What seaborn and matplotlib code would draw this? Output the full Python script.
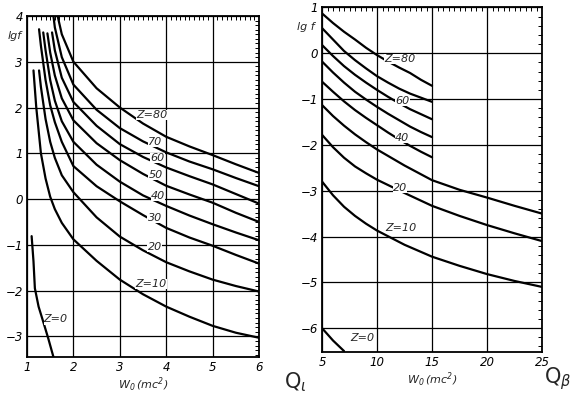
import numpy as np
import pandas as pd
import matplotlib
matplotlib.use('Agg')
import matplotlib.pyplot as plt
from matplotlib.ticker import MultipleLocator
import seaborn as sns

# ===================== DATEN =====================
# linkes Feld: Q_i, W0 in mc^2, lg f
qi_x80 = [1.66, 1.75, 2.0, 2.5, 3.0, 3.5, 4.0, 4.5, 5.0, 5.5, 6.0]
qi_y80 = [4.0, 3.6, 3.0, 2.42, 2.0, 1.65, 1.36, 1.15, 0.96, 0.76, 0.57]
qi_x70 = [1.57, 1.6, 1.75, 2.0, 2.5, 3.0, 3.5, 4.0, 4.5, 5.0, 5.5, 6.0]
qi_y70 = [4.0, 3.75, 3.1, 2.5, 1.95, 1.55, 1.26, 1.02, 0.82, 0.65, 0.46, 0.28]
qi_x60 = [1.54, 1.6, 1.75, 2.0, 2.5, 3.0, 3.5, 4.0, 4.5, 5.0, 5.5, 6.0]
qi_y60 = [3.64, 3.25, 2.65, 2.12, 1.6, 1.2, 0.92, 0.69, 0.5, 0.32, 0.11, -0.1]
qi_x50 = [1.44, 1.5, 1.6, 1.75, 2.0, 2.5, 3.0, 3.5, 4.0, 4.5, 5.0, 5.5, 6.0]
qi_y50 = [3.62, 3.2, 2.7, 2.2, 1.72, 1.22, 0.85, 0.55, 0.29, 0.1, -0.08, -0.3, -0.5]
qi_x40 = [1.35, 1.4, 1.5, 1.6, 1.75, 2.0, 2.5, 3.0, 3.5, 4.0, 4.5, 5.0, 5.5, 6.0]
qi_y40 = [3.64, 3.25, 2.6, 2.15, 1.7, 1.25, 0.75, 0.38, 0.08, -0.15, -0.36, -0.55, -0.73, -0.9]
qi_x30 = [1.26, 1.3, 1.4, 1.5, 1.6, 1.75, 2.0, 2.5, 3.0, 3.5, 4.0, 4.5, 5.0, 5.5, 6.0]
qi_y30 = [3.71, 3.35, 2.6, 2.05, 1.68, 1.25, 0.72, 0.28, -0.05, -0.35, -0.63, -0.84, -1.02, -1.22, -1.41]
qi_x20 = [1.26, 1.3, 1.4, 1.5, 1.6, 1.75, 2.0, 2.5, 3.0, 3.5, 4.0, 4.5, 5.0, 5.5, 6.0]
qi_y20 = [2.81, 2.45, 1.75, 1.25, 0.9, 0.52, 0.15, -0.4, -0.82, -1.12, -1.38, -1.58, -1.76, -1.9, -2.02]
qi_x10 = [1.14, 1.2, 1.3, 1.4, 1.5, 1.6, 1.75, 2.0, 2.5, 3.0, 3.5, 4.0, 4.5, 5.0, 5.5, 6.0]
qi_y10 = [2.81, 2.0, 1.0, 0.45, 0.05, -0.22, -0.52, -0.88, -1.35, -1.76, -2.08, -2.35, -2.57, -2.77, -2.92, -3.03]
qi_x0 = [1.10, 1.14, 1.17, 1.25, 1.35, 1.46, 1.57]
qi_y0 = [-0.81, -1.36, -1.95, -2.35, -2.68, -3.05, -3.45]

# rechtes Feld: Q_beta
qb_x_kurz = [5, 6, 7, 8, 9, 10, 11, 12, 13, 14, 15]
qb_y80 = [0.87, 0.66, 0.47, 0.30, 0.12, -0.04, -0.18, -0.31, -0.43, -0.58, -0.71]
qb_y70 = [0.55, 0.30, 0.05, -0.15, -0.33, -0.50, -0.64, -0.77, -0.88, -0.97, -1.06]
qb_y60 = [0.18, -0.06, -0.28, -0.47, -0.64, -0.80, -0.95, -1.09, -1.22, -1.33, -1.44]
qb_y50 = [-0.18, -0.42, -0.64, -0.84, -1.01, -1.17, -1.32, -1.46, -1.60, -1.72, -1.83]
qb_y40 = [-0.62, -0.84, -1.05, -1.24, -1.41, -1.57, -1.73, -1.88, -2.02, -2.15, -2.27]
qb_x_lang = [5, 6, 7, 8, 9, 10, 12.5, 15, 17.5, 20, 22.5, 25]
qb_y30 = [-1.13, -1.37, -1.58, -1.77, -1.94, -2.10, -2.45, -2.77, -2.98, -3.15, -3.33, -3.5]
qb_y20 = [-1.78, -2.05, -2.28, -2.47, -2.62, -2.76, -3.05, -3.33, -3.55, -3.75, -3.93, -4.1]
qb_y10 = [-2.8, -3.1, -3.35, -3.55, -3.72, -3.87, -4.18, -4.44, -4.64, -4.82, -4.97, -5.1]
qb_x0 = [5, 6, 7]
qb_y0 = [-6.0, -6.27, -6.5]

# Beschriftungen der Kurven (Text, x, y)
qi_labels = [('Z=80', 3.69, 1.84), ('70', 3.77, 1.25), ('60', 3.81, 0.89),
             ('50', 3.77, 0.53), ('40', 3.82, 0.07), ('30', 3.75, -0.42),
             ('20', 3.75, -1.05), ('Z=10', 3.67, -1.85), ('Z=0', 1.62, -2.63)]
qb_labels = [('Z=80', 12.1, -0.12), ('60', 12.3, -1.04), ('40', 12.3, -1.84),
             ('20', 12.1, -2.94), ('Z=10', 12.2, -3.81), ('Z=0', 8.7, -6.22)]


def to_long(curves):
    rows = []
    for z, xs, ys in curves:
        for x, y in zip(xs, ys):
            rows.append({'Z': z, 'W0': x, 'lgf': y})
    return pd.DataFrame(rows)


df_qi = to_long([(80, qi_x80, qi_y80), (70, qi_x70, qi_y70), (60, qi_x60, qi_y60),
                 (50, qi_x50, qi_y50), (40, qi_x40, qi_y40), (30, qi_x30, qi_y30),
                 (20, qi_x20, qi_y20), (10, qi_x10, qi_y10), (0, qi_x0, qi_y0)])
df_qb = to_long([(80, qb_x_kurz, qb_y80), (70, qb_x_kurz, qb_y70), (60, qb_x_kurz, qb_y60),
                 (50, qb_x_kurz, qb_y50), (40, qb_x_kurz, qb_y40), (30, qb_x_lang, qb_y30),
                 (20, qb_x_lang, qb_y20), (10, qb_x_lang, qb_y10), (0, qb_x0, qb_y0)])

sns.set_style('white')
plt.rcParams['font.family'] = ['DejaVu Sans']
plt.rcParams['font.style'] = 'italic'

fig = plt.figure(figsize=(5.73, 3.97), dpi=100)
ax1 = fig.add_axes([0.0471, 0.1008, 0.405, 0.859])
ax2 = fig.add_axes([0.562, 0.1134, 0.384, 0.8678])


def style_axes(ax, xlim, ylim, xmaj, xmin, ymin):
    ax.set_xlim(*xlim)
    ax.set_ylim(*ylim)
    ax.xaxis.set_major_locator(MultipleLocator(xmaj))
    ax.xaxis.set_minor_locator(MultipleLocator(xmin))
    ax.yaxis.set_major_locator(MultipleLocator(1))
    ax.yaxis.set_minor_locator(MultipleLocator(ymin))
    ax.grid(True, which='major', color='black', lw=0.9)
    ax.tick_params(which='both', direction='in', top=True, right=True, colors='black',
                   labelsize=8.5, pad=3)
    ax.tick_params(which='major', length=0)
    ax.tick_params(which='minor', length=3, width=0.7)
    for s in ax.spines.values():
        s.set_color('black')
        s.set_linewidth(1.3)
    ax.set_xlabel(r'$W_0\,(mc^2)$', fontsize=8, labelpad=1)
    ax.set_ylabel('')


for ax, df in [(ax1, df_qi), (ax2, df_qb)]:
    sns.lineplot(data=df, x='W0', y='lgf', hue='Z', palette={z: 'black' for z in df['Z'].unique()},
                 estimator=None, sort=False, legend=False, lw=1.6, ax=ax)

style_axes(ax1, (1, 6), (-3.45, 4), 1, 0.1, 0.1)
style_axes(ax2, (5, 25), (-6.52, 1.0), 5, 0.5, 0.2)

for ax, labels in [(ax1, qi_labels), (ax2, qb_labels)]:
    for txt, x, y in labels:
        ax.text(x, y, txt, fontsize=8, ha='center', va='center', zorder=5,
                bbox=dict(facecolor='white', edgecolor='none', pad=0.1))

fig.text(15 / 573, 1 - 36 / 397, 'lgf', fontsize=8, ha='center', va='center')
fig.text(306 / 573, 1 - 27 / 397, 'lg f', fontsize=8, ha='center', va='center')
fig.text(295 / 573, 1 - 382 / 397, r'Q$_\iota$', fontsize=15, ha='center', va='center', style='normal')
fig.text(558 / 573, 1 - 379 / 397, r'Q$_\beta$', fontsize=15, ha='center', va='center', style='normal')

plt.savefig('out.png', dpi=100)
